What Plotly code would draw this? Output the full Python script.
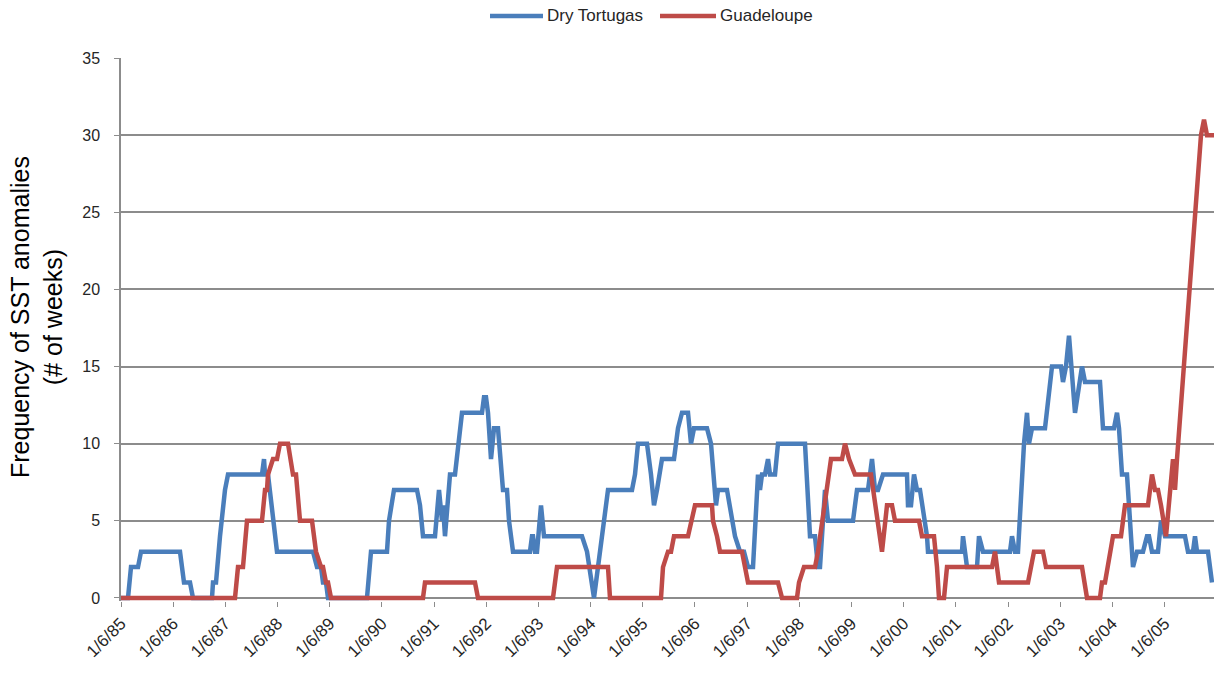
import pandas as pd
import plotly.graph_objects as go

# Weekly series, stored as turning points: week number since 1/6/85 and count of anomaly weeks
START = "1985-01-06"

TORTUGAS_WEEK = [0, 7, 10, 17, 20, 59, 63, 69, 72, 91, 92, 95, 99, 104, 107, 141, 143, 144, 147, 151,
                 154, 156, 192, 196, 200, 202, 205, 207, 246, 247, 250, 266, 268, 273, 296, 299, 302,
                 314, 318, 321, 322, 324, 329, 334, 337, 341, 361, 363, 365, 367, 370, 373, 377, 382,
                 386, 388, 392, 409, 411, 412, 414, 416, 420, 423, 461, 465, 466, 473, 477, 481, 482,
                 487, 511, 514, 517, 526, 530, 533, 536, 541, 553, 557, 561, 567, 570, 573, 586, 590,
                 595, 597, 606, 614, 619, 623, 627, 632, 637, 639, 641, 644, 647, 649, 654, 657, 684,
                 689, 694, 697, 699, 704, 707, 732, 736, 747, 751, 754, 757, 762, 786, 787, 790, 793,
                 796, 799, 806, 807, 841, 842, 846, 856, 858, 862, 889, 891, 894, 897, 903, 906, 908,
                 911, 924, 926, 931, 940, 942, 945, 948, 954, 961, 964, 979, 982, 993, 996, 998, 1001,
                 1006, 1012, 1016, 1022, 1026, 1028, 1031, 1037, 1040, 1044, 1064, 1067, 1072, 1074,
                 1076, 1087, 1091]
TORTUGAS_VAL = [0, 0, 2, 2, 3, 3, 1, 1, 0, 0, 1, 1, 4, 7, 8, 8, 9, 8, 8, 6,
                4, 3, 3, 2, 2, 1, 1, 0, 0, 1, 3, 3, 5, 7, 7, 6, 4,
                4, 7, 5, 6, 4, 8, 8, 10, 12, 12, 13, 13, 12, 9, 11, 11, 7,
                7, 5, 3, 3, 4, 4, 3, 3, 6, 4, 4, 3, 3, 0, 2, 4, 4,
                7, 7, 8, 10, 10, 8, 6, 7, 9, 9, 11, 12, 12, 10, 11, 11, 10,
                6, 7, 7, 4, 3, 3, 2, 2, 8, 7, 8, 8, 9, 8, 8, 10, 10,
                4, 4, 2, 2, 7, 5, 5, 7, 7, 9, 7, 7, 8, 8, 6, 6, 8,
                7, 7, 4, 3, 3, 4, 2, 2, 4, 3, 3, 4, 3, 3, 10, 12, 10,
                11, 11, 12, 15, 15, 14, 15, 17, 12, 15, 14, 14, 11, 11, 12, 11, 8,
                8, 2, 3, 3, 4, 4, 3, 3, 5, 4, 4, 3, 3, 4,
                3, 3, 1]

GUADELOUPE_WEEK = [0, 114, 117, 122, 126, 141, 144, 146, 147, 152, 156, 159, 167, 170, 172, 175, 179,
                   191, 195, 200, 202, 205, 207, 210, 302, 304, 354, 357, 432, 436, 487, 489, 540,
                   542, 547, 550, 553, 567, 571, 574, 591, 592, 596, 599, 621, 624, 627, 657, 661,
                   676, 678, 683, 694, 697, 699, 708, 710, 721, 724, 728, 734, 750, 752, 761, 766,
                   771, 774, 798, 801, 813, 816, 818, 823, 826, 871, 874, 878, 907, 910, 913, 922,
                   925, 961, 963, 966, 979, 981, 984, 987, 992, 1000, 1004, 1027, 1031, 1034, 1037,
                   1040, 1045, 1052, 1054, 1056, 1069, 1080, 1083, 1086, 1093]
GUADELOUPE_VAL = [0, 0, 2, 2, 5, 5, 7, 7, 8, 9, 9, 10, 10, 9, 8, 8, 5,
                  5, 3, 2, 2, 1, 1, 0, 0, 1, 1, 0, 0, 2, 2, 0, 0,
                  2, 3, 3, 4, 4, 5, 6, 6, 5, 4, 3, 3, 2, 1, 1, 0,
                  0, 1, 2, 2, 3, 4, 8, 9, 9, 10, 9, 8, 8, 7, 3, 6,
                  6, 5, 5, 4, 4, 2, 0, 0, 2, 2, 3, 1, 1, 2, 3, 3,
                  2, 2, 1, 0, 0, 1, 1, 2, 4, 4, 6, 6, 8, 7, 7,
                  6, 4, 9, 7, 9, 20, 30, 31, 30, 30]

SERIES_NAMES = ["Dry Tortugas", "Guadeloupe"]
TICK_LABELS = ["1/6/85", "1/6/86", "1/6/87", "1/6/88", "1/6/89", "1/6/90", "1/6/91", "1/6/92",
               "1/6/93", "1/6/94", "1/6/95", "1/6/96", "1/6/97", "1/6/98", "1/6/99", "1/6/00",
               "1/6/01", "1/6/02", "1/6/03", "1/6/04", "1/6/05"]
Y_TICKS = [0, 5, 10, 15, 20, 25, 30, 35]
TICK_DATES = pd.date_range(START, periods=len(TICK_LABELS), freq=pd.DateOffset(years=1))

LAST_WEEK = 1093


def week_dates(weeks):
    return pd.Timestamp(START) + pd.to_timedelta([7 * w for w in weeks], unit="D")


W, H = 1225, 676
ML, MR, MT, MB = 121, 11, 58, 75
PW, PH = W - ML - MR, H - MT - MB


def px(xpix):
    return (xpix - ML) / PW


def py(ypix):
    return (H - MB - ypix) / PH


BLUE = "#4A7EBB"
RED = "#BE4B48"
GRID = "#8C8C8C"
TEXT = "#262626"
SANS = "Liberation Sans, Arial, sans-serif"
LINE_W = 4.5

fig = go.Figure()
fig.add_trace(go.Scatter(x=week_dates(TORTUGAS_WEEK), y=TORTUGAS_VAL, mode="lines",
                         name=SERIES_NAMES[0], line=dict(color=BLUE, width=LINE_W)))
fig.add_trace(go.Scatter(x=week_dates(GUADELOUPE_WEEK), y=GUADELOUPE_VAL, mode="lines",
                         name=SERIES_NAMES[1], line=dict(color=RED, width=LINE_W)))

# Legend row above the plot: line sample followed by the series name
legend_items = [(SERIES_NAMES[0], BLUE, 490, 543), (SERIES_NAMES[1], RED, 660, 716)]
shapes, annotations = [], []
for name, color, x0, x1 in legend_items:
    shapes.append(dict(type="line", xref="paper", yref="paper", x0=px(x0), x1=px(x1),
                       y0=py(16), y1=py(16), line=dict(color=color, width=LINE_W)))
    annotations.append(dict(text=name, xref="paper", yref="paper", x=px(x1 + 2), y=py(16),
                            xanchor="left", yanchor="middle", showarrow=False,
                            font=dict(family=SANS, size=17, color=TEXT)))

annotations.append(dict(
    text="Frequency of SST anomalies<br>(# of weeks)",
    textangle=-90, xref="paper", yref="paper",
    x=px(36), y=py(317), xanchor="center", yanchor="middle",
    showarrow=False,
    font=dict(family=SANS, size=25, color="black"),
))

fig.update_layout(
    width=W, height=H,
    margin=dict(l=ML, r=MR, t=MT, b=MB, autoexpand=False),
    paper_bgcolor="white", plot_bgcolor="white",
    showlegend=False,
    xaxis=dict(
        type="date",
        range=[pd.Timestamp(START), week_dates([LAST_WEEK])[0]],
        tickvals=TICK_DATES, ticktext=TICK_LABELS, tickangle=-45,
        tickfont=dict(family=SANS, size=17, color=TEXT),
        ticks="outside", ticklen=5, tickcolor=GRID, tickwidth=1,
        showgrid=False, showline=False, zeroline=False,
    ),
    yaxis=dict(
        range=[-0.2, 35], tickvals=Y_TICKS,
        tickfont=dict(family=SANS, size=16, color=TEXT),
        ticks="outside", ticklen=5, tickcolor=GRID, tickwidth=1, ticklabelstandoff=11,
        showgrid=True, gridcolor=GRID, gridwidth=1.5,
        zeroline=True, zerolinecolor=GRID, zerolinewidth=1.5,
        showline=True, linecolor=GRID, linewidth=1.5,
    ),
    shapes=shapes,
    annotations=annotations,
)

fig.write_html("out.html")
